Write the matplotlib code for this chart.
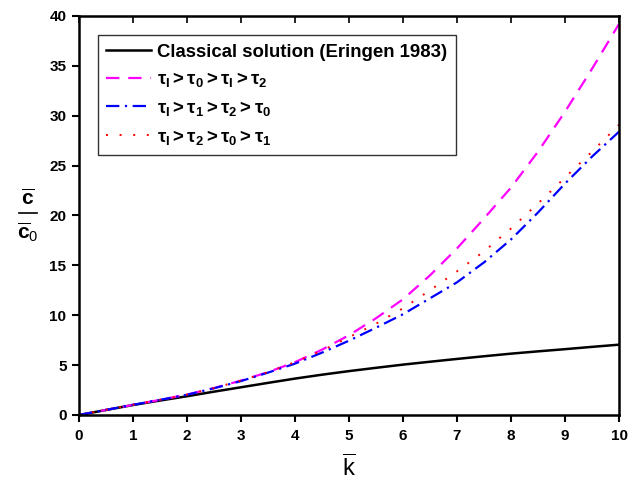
import matplotlib
matplotlib.use("Agg")
import matplotlib.pyplot as plt
from matplotlib.lines import Line2D

plt.rcParams['font.family'] = ['Liberation Sans', 'DejaVu Sans']
plt.rcParams['mathtext.fontset'] = 'custom'
plt.rcParams['mathtext.rm'] = 'Liberation Sans:bold'
plt.rcParams['mathtext.it'] = 'Liberation Sans:bold'
plt.rcParams['mathtext.bf'] = 'Liberation Sans:bold'
plt.rcParams['mathtext.sf'] = 'Liberation Sans'

k = [0, 0.5, 1, 1.5, 2, 2.5, 3, 3.5, 4, 4.5, 5, 5.5, 6, 6.5, 7, 7.5, 8, 8.5, 9, 9.5, 10]
classical = [0, 0.5, 1.0, 1.45, 1.88, 2.34, 2.78, 3.22, 3.65, 4.04, 4.4, 4.73, 5.05,
             5.34, 5.62, 5.89, 6.15, 6.38, 6.6, 6.83, 7.05]
tau_a = [0, 0.51, 1.02, 1.52, 2.05, 2.7, 3.45, 4.3, 5.3, 6.55, 8.0, 9.7, 11.6,
         14.0, 16.7, 19.7, 22.8, 26.4, 30.4, 34.7, 39.2]
tau_b = [0, 0.51, 1.02, 1.52, 2.03, 2.68, 3.4, 4.25, 5.15, 6.25, 7.45, 8.75, 10.1,
         11.7, 13.3, 15.3, 17.6, 20.3, 23.2, 25.9, 28.4]
tau_c = [0, 0.51, 1.02, 1.52, 2.05, 2.7, 3.45, 4.3, 5.3, 6.45, 7.8, 9.15, 10.7,
         12.5, 14.4, 16.4, 18.7, 21.2, 23.8, 26.4, 29.1]

labels = ['Classical solution (Eringen 1983)',
          r'$\tau_{\mathrm{I}} > \tau_0 > \tau_{\mathrm{I}} > \tau_2$',
          r'$\tau_{\mathrm{I}} > \tau_1 > \tau_2 > \tau_0$',
          r'$\tau_{\mathrm{I}} > \tau_2 > \tau_0 > \tau_1$']
xticks = [0, 1, 2, 3, 4, 5, 6, 7, 8, 9, 10]
yticks = [0, 5, 10, 15, 20, 25, 30, 35, 40]

fig = plt.figure(figsize=(6.28, 4.84), dpi=100)
ax = fig.add_axes([79/628, 1 - 415/484, 540/628, 399/484])

ax.plot(k, classical, color='black', lw=1.8, label=labels[0])
ax.plot(k, tau_a, color='#ff00ff', lw=1.6, linestyle=(0, (6, 4)), label=labels[1])
ax.plot(k, tau_b, color='#0000ff', lw=1.6, linestyle=(0, (6, 2.5, 1, 2.5)), label=labels[2])
ax.plot(k, tau_c, color='#ff0000', lw=1.4, linestyle=(0, (1, 6)), label=labels[3])

ax.set_xlim(0, 10)
ax.set_ylim(0, 40)
ax.set_xticks(xticks)
ax.set_yticks(yticks)
ax.set_xticklabels([str(t) for t in xticks], fontweight='bold', fontsize=11)
ax.set_yticklabels([str(t) for t in yticks], fontweight='bold', fontsize=11)
ax.tick_params(axis='both', direction='out', length=5, width=1.5)
ax.tick_params(axis='x', pad=5)
ax.tick_params(axis='y', pad=4)
for s in ax.spines.values():
    s.set_linewidth(1.8)

# top ticks inward
ax2 = ax.secondary_xaxis('top')
ax2.set_xticks(xticks)
ax2.tick_params(direction='in', length=5, width=1.2, labeltop=False)

ax.set_xlabel(r'$\overline{\mathsf{k}}$', fontsize=17, labelpad=9)

# y label as stacked fraction
fig.text(28/628, 1 - 199/484, r'$\overline{\mathbf{c}}$', fontsize=15, ha='center', va='center')
fig.add_artist(Line2D([19/628, 37/628], [1 - 213/484, 1 - 213/484], color='black', lw=1.2,
                      transform=fig.transFigure))
fig.text(28/628, 1 - 232/484, r'$\overline{\mathbf{c}}_{\mathsf{0}}$', fontsize=15, ha='center', va='center')

leg = ax.legend(loc='upper left', bbox_to_anchor=(0.035, 0.952), borderaxespad=0,
                frameon=True, fancybox=False, edgecolor='black', handlelength=2.4,
                handletextpad=0.35, labelspacing=0.52, borderpad=0.45,
                prop={'weight': 'bold', 'size': 13.4})
leg.get_frame().set_linewidth(1.0)

fig.savefig('out.png', dpi=100)
